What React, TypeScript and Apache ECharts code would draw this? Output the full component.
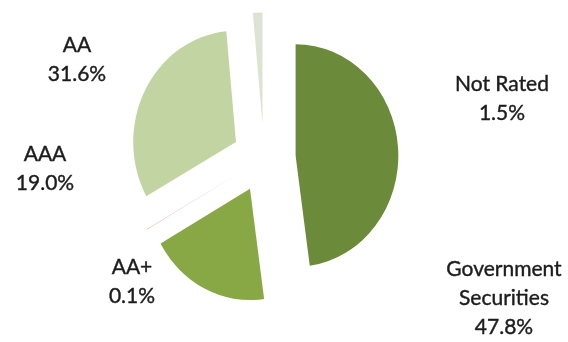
import React, { useEffect, useRef } from "react";
import * as echarts from "echarts";

const categories = ["Government\nSecurities", "AAA", "AA+", "AA", "Not Rated"];
const values = [47.8, 19.0, 0.1, 31.6, 1.5];
const colors = ["#6B8A3A", "#88A845", "#E6C9C9", "#C3D4A3", "#DCE3D2"];
// label centre positions (px) for each category, same order
const labelPos: [number, number][] = [
  [504, 296],
  [45, 167],
  [132, 280],
  [77, 58],
  [502, 97],
];

export default function App() {
  const pieRef = useRef<HTMLDivElement>(null);
  const textRef = useRef<HTMLDivElement>(null);
  useEffect(() => {
    if (!pieRef.current || !textRef.current) return;
    const pie = echarts.init(pieRef.current, null, { renderer: "svg" });
    pie.setOption({
      animation: false,
      backgroundColor: "#ffffff",
      series: [
        {
          type: "pie",
          center: [264, 158],
          radius: [0, 107],
          startAngle: 90,
          clockwise: true,
          selectedMode: "multiple",
          selectedOffset: 33,
          emphasis: { disabled: true },
          itemStyle: { borderWidth: 0 },
          label: { show: false },
          labelLine: { show: false },
          data: categories.map((c, i) => ({
            name: c,
            value: values[i],
            selected: true,
            itemStyle: { color: colors[i] },
          })),
        },
      ],
    });
    const txt = echarts.init(textRef.current, null, { renderer: "svg" });
    txt.setOption({
      animation: false,
      graphic: categories.map((c, i) => ({
        type: "text",
        x: labelPos[i][0],
        y: labelPos[i][1],
        silent: true,
        style: {
          text: `${c}\n${values[i].toFixed(1)}%`,
          fontFamily: "Lato",
          fontSize: 21,
          lineHeight: 29,
          fill: "#1c1c1c",
          stroke: "#1c1c1c",
          lineWidth: 0.4,
          textAlign: "center",
          textVerticalAlign: "middle",
        },
      })),
    });
    return () => {
      pie.dispose();
      txt.dispose();
    };
  }, []);
  return (
    <div style={{ position: "fixed", left: 0, top: 0, width: 568, height: 342 }}>
      <div
        ref={pieRef}
        style={{
          position: "absolute",
          left: 0,
          top: 0,
          width: 568,
          height: 342,
          transform: "scale(0.96, 1.04)",
          transformOrigin: "264px 158px",
        }}
      />
      <div
        ref={textRef}
        style={{ position: "absolute", left: 0, top: 0, width: 568, height: 342 }}
      />
    </div>
  );
}
